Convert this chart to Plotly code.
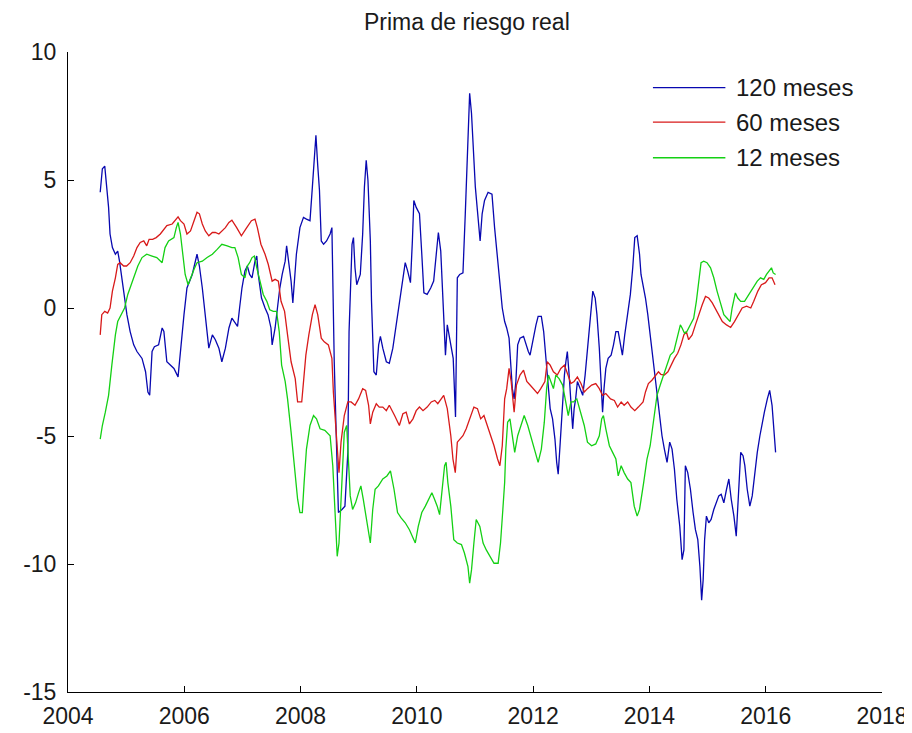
import plotly.graph_objects as go

# ---------------- data ----------------
title_text = "Prima de riesgo real"
series_names = ["120 meses", "60 meses", "12 meses"]
x_tick_labels = [2004, 2006, 2008, 2010, 2012, 2014, 2016, 2018]
y_tick_labels = [-15, -10, -5, 0, 5, 10]

years_120 = [
    2004.554, 2004.591, 2004.632, 2004.662, 2004.698, 2004.723, 2004.764, 2004.815, 2004.855, 2004.886,
    2004.927, 2004.973, 2005.013, 2005.069, 2005.130, 2005.186, 2005.273, 2005.334, 2005.374, 2005.405,
    2005.446, 2005.486, 2005.558, 2005.619, 2005.649, 2005.700, 2005.761, 2005.822, 2005.893, 2005.934,
    2005.995, 2006.046, 2006.137, 2006.219, 2006.260, 2006.310, 2006.361, 2006.422, 2006.483, 2006.534,
    2006.595, 2006.646, 2006.707, 2006.768, 2006.819, 2006.916, 2006.951, 2006.992, 2007.043, 2007.084,
    2007.124, 2007.165, 2007.216, 2007.247, 2007.272, 2007.328, 2007.389, 2007.440, 2007.491, 2007.511,
    2007.562, 2007.603, 2007.643, 2007.684, 2007.735, 2007.760, 2007.801, 2007.837, 2007.867, 2007.893,
    2007.928, 2007.989, 2008.050, 2008.101, 2008.162, 2008.203, 2008.234, 2008.264, 2008.295, 2008.325,
    2008.356, 2008.396, 2008.447, 2008.508, 2008.539, 2008.554, 2008.579, 2008.620, 2008.651, 2008.712,
    2008.763, 2008.813, 2008.834, 2008.885, 2008.910, 2008.936, 2008.966, 2009.027, 2009.068, 2009.098,
    2009.129, 2009.159, 2009.200, 2009.220, 2009.261, 2009.302, 2009.343, 2009.373, 2009.414, 2009.475,
    2009.526, 2009.587, 2009.644, 2009.699, 2009.760, 2009.800, 2009.841, 2009.890, 2009.923, 2009.948,
    2009.989, 2010.045, 2010.085, 2010.121, 2010.177, 2010.238, 2010.289, 2010.330, 2010.370, 2010.411,
    2010.452, 2010.492, 2010.523, 2010.564, 2010.625, 2010.665, 2010.696, 2010.737, 2010.793, 2010.833,
    2010.879, 2010.908, 2010.940, 2010.966, 2011.006, 2011.042, 2011.088, 2011.123, 2011.164, 2011.225,
    2011.292, 2011.337, 2011.388, 2011.428, 2011.469, 2011.510, 2011.545, 2011.586, 2011.612, 2011.642,
    2011.673, 2011.703, 2011.734, 2011.774, 2011.835, 2011.876, 2011.917, 2011.947, 2011.988, 2012.049,
    2012.086, 2012.141, 2012.181, 2012.222, 2012.263, 2012.293, 2012.334, 2012.375, 2012.405, 2012.431,
    2012.466, 2012.507, 2012.538, 2012.563, 2012.588, 2012.619, 2012.649, 2012.680, 2012.705, 2012.731,
    2012.761, 2012.812, 2012.853, 2012.894, 2012.924, 2012.965, 2013.006, 2013.026, 2013.067, 2013.097,
    2013.138, 2013.168, 2013.194, 2013.219, 2013.250, 2013.290, 2013.341, 2013.382, 2013.423, 2013.463,
    2013.499, 2013.535, 2013.575, 2013.626, 2013.672, 2013.713, 2013.748, 2013.789, 2013.830, 2013.855,
    2013.932, 2013.972, 2014.013, 2014.064, 2014.105, 2014.145, 2014.176, 2014.216, 2014.257, 2014.303,
    2014.349, 2014.389, 2014.430, 2014.471, 2014.522, 2014.562, 2014.593, 2014.618, 2014.659, 2014.705,
    2014.751, 2014.791, 2014.832, 2014.868, 2014.898, 2014.924, 2014.949, 2014.980, 2015.020, 2015.061,
    2015.107, 2015.153, 2015.193, 2015.234, 2015.280, 2015.326, 2015.366, 2015.407, 2015.453, 2015.493,
    2015.529, 2015.570, 2015.610, 2015.641, 2015.682, 2015.727, 2015.768, 2015.804, 2015.855, 2015.900,
    2015.941, 2015.977, 2016.028, 2016.068, 2016.109, 2016.140, 2016.170,
]
values_120 = [
    4.52, 5.44, 5.54, 4.85, 3.93, 2.89, 2.36, 2.10, 2.22, 1.83,
    1.18, 0.39, -0.26, -0.92, -1.44, -1.70, -1.97, -2.49, -3.28, -3.41,
    -1.70, -1.51, -1.44, -0.78, -0.92, -2.10, -2.23, -2.36, -2.69, -1.57,
    -0.26, 0.78, 1.31, 2.10, 1.64, 0.78, -0.26, -1.57, -1.05, -1.24,
    -1.57, -2.10, -1.57, -0.78, -0.40, -0.72, 0.00, 0.78, 1.45, 1.64,
    1.31, 1.18, 1.83, 2.03, 1.31, 0.39, 0.00, -0.26, -0.78, -1.44,
    -0.78, 0.00, 0.78, 1.31, 1.83, 2.43, 1.70, 1.05, 0.20, 1.05,
    2.10, 3.14, 3.54, 3.47, 3.41, 4.72, 5.77, 6.75, 5.57, 4.59,
    2.62, 2.49, 2.62, 2.89, 3.14, 0.78, -2.10, -5.51, -7.99, -7.87,
    -7.74, -5.64, -0.92, 2.49, 2.75, 1.57, 0.91, 1.31, 2.89, 4.72,
    5.77, 4.98, 2.62, 0.26, -2.49, -2.62, -1.44, -1.11, -1.57, -2.10,
    -2.16, -1.57, -0.66, 0.26, 1.18, 1.77, 1.45, 0.99, 2.62, 4.20,
    3.93, 3.68, 2.10, 0.59, 0.53, 0.78, 1.05, 1.97, 2.95, 2.22,
    0.39, -1.84, -0.66, -1.18, -1.97, -4.26, 1.18, 1.31, 1.37, 3.68,
    6.29, 8.39, 7.60, 6.43, 4.72, 3.80, 2.62, 3.68, 4.20, 4.52,
    4.45, 3.14, 1.83, 0.78, 0.00, -0.53, -0.78, -1.18, -2.36, -3.15,
    -3.55, -2.87, -1.44, -1.18, -1.11, -1.44, -1.70, -1.84, -1.32, -0.66,
    -0.33, -0.33, -0.92, -1.97, -2.87, -3.93, -4.33, -5.12, -6.03, -6.49,
    -5.24, -3.67, -2.62, -2.10, -1.70, -2.62, -3.67, -4.72, -3.93, -3.55,
    -2.87, -3.15, -3.41, -2.62, -1.84, -1.05, 0.00, 0.66, 0.39, -0.26,
    -1.57, -2.76, -4.07, -3.15, -2.36, -1.97, -1.84, -1.44, -0.92, -0.92,
    -1.44, -1.84, -1.05, -0.26, 0.53, 1.57, 2.75, 2.82, 2.10, 1.31,
    0.39, -0.26, -1.05, -1.84, -2.62, -3.55, -4.20, -4.99, -5.51, -6.03,
    -5.24, -5.51, -6.30, -7.47, -8.53, -9.83, -9.45, -6.16, -6.43, -7.08,
    -7.99, -8.66, -9.05, -10.10, -11.41, -10.62, -9.05, -8.13, -8.39, -8.26,
    -7.87, -7.61, -7.34, -7.28, -7.61, -7.08, -6.68, -7.47, -8.13, -8.91,
    -7.47, -5.64, -5.77, -6.16, -7.08, -7.74, -7.34, -6.56, -5.64, -4.99,
    -4.46, -4.07, -3.55, -3.22, -3.80, -4.72, -5.64,
]

years_60 = [
    2004.554, 2004.581, 2004.632, 2004.682, 2004.723, 2004.764, 2004.815, 2004.855, 2004.896, 2004.957,
    2005.008, 2005.069, 2005.130, 2005.186, 2005.242, 2005.303, 2005.354, 2005.395, 2005.456, 2005.517,
    2005.588, 2005.649, 2005.700, 2005.792, 2005.842, 2005.893, 2005.934, 2005.995, 2006.046, 2006.107,
    2006.168, 2006.219, 2006.260, 2006.310, 2006.361, 2006.422, 2006.483, 2006.534, 2006.595, 2006.646,
    2006.707, 2006.768, 2006.819, 2006.901, 2006.982, 2007.074, 2007.155, 2007.216, 2007.257, 2007.318,
    2007.389, 2007.445, 2007.511, 2007.562, 2007.618, 2007.664, 2007.725, 2007.776, 2007.837, 2007.908,
    2007.949, 2008.020, 2008.050, 2008.091, 2008.142, 2008.203, 2008.249, 2008.295, 2008.356, 2008.407,
    2008.478, 2008.539, 2008.564, 2008.605, 2008.641, 2008.661, 2008.696, 2008.752, 2008.813, 2008.869,
    2008.936, 2008.997, 2009.068, 2009.119, 2009.170, 2009.200, 2009.241, 2009.302, 2009.353, 2009.414,
    2009.475, 2009.526, 2009.617, 2009.699, 2009.760, 2009.816, 2009.872, 2009.933, 2009.989, 2010.045,
    2010.106, 2010.177, 2010.248, 2010.309, 2010.360, 2010.411, 2010.462, 2010.523, 2010.584, 2010.621,
    2010.661, 2010.696, 2010.737, 2010.793, 2010.849, 2010.908, 2010.981, 2011.042, 2011.098, 2011.154,
    2011.215, 2011.271, 2011.327, 2011.388, 2011.428, 2011.469, 2011.510, 2011.545, 2011.586, 2011.622,
    2011.673, 2011.713, 2011.774, 2011.835, 2011.891, 2011.947, 2012.019, 2012.075, 2012.131, 2012.202,
    2012.242, 2012.293, 2012.349, 2012.415, 2012.476, 2012.538, 2012.599, 2012.649, 2012.705, 2012.761,
    2012.823, 2012.879, 2012.934, 2013.006, 2013.077, 2013.138, 2013.194, 2013.250, 2013.331, 2013.397,
    2013.453, 2013.514, 2013.565, 2013.626, 2013.682, 2013.748, 2013.809, 2013.891, 2013.932, 2013.982,
    2014.043, 2014.105, 2014.155, 2014.196, 2014.257, 2014.318, 2014.369, 2014.430, 2014.486, 2014.542,
    2014.593, 2014.634, 2014.674, 2014.735, 2014.791, 2014.847, 2014.908, 2014.964, 2015.020, 2015.081,
    2015.132, 2015.193, 2015.254, 2015.326, 2015.397, 2015.463, 2015.539, 2015.595, 2015.671, 2015.743,
    2015.794, 2015.865, 2015.926, 2015.997, 2016.058, 2016.109, 2016.160,
]
values_60 = [
    -1.05, -0.26, -0.13, -0.20, 0.00, 0.66, 1.18, 1.70, 1.77, 1.64,
    1.64, 1.77, 2.03, 2.36, 2.56, 2.62, 2.43, 2.68, 2.68, 2.75,
    2.89, 3.08, 3.22, 3.28, 3.41, 3.56, 3.41, 3.28, 2.89, 3.01,
    3.41, 3.74, 3.68, 3.28, 3.01, 2.82, 2.95, 2.95, 2.89, 3.01,
    3.14, 3.34, 3.43, 3.14, 2.82, 3.14, 3.41, 3.47, 3.14, 2.49,
    2.10, 1.70, 1.05, 1.12, 1.05, 0.26, -0.13, -1.05, -2.10, -2.76,
    -3.67, -3.67, -2.87, -1.84, -1.05, -0.26, 0.13, -0.26, -1.18, -1.32,
    -1.44, -1.97, -3.28, -4.72, -6.16, -6.43, -5.24, -4.20, -3.67, -3.67,
    -3.80, -3.55, -3.15, -3.22, -3.80, -4.53, -4.07, -3.74, -3.87, -3.87,
    -4.01, -3.80, -4.20, -4.59, -4.13, -4.07, -4.53, -4.33, -4.01, -3.87,
    -4.01, -3.87, -3.67, -3.61, -3.74, -3.55, -3.41, -3.93, -4.99, -5.90,
    -6.43, -5.24, -5.12, -4.99, -4.72, -4.33, -3.87, -3.93, -4.33, -4.20,
    -4.59, -4.99, -5.38, -5.90, -6.16, -5.38, -3.55, -3.15, -2.36, -2.87,
    -4.07, -3.01, -2.62, -2.43, -2.87, -3.01, -3.22, -3.34, -3.15, -2.87,
    -2.10, -2.23, -2.49, -2.62, -2.36, -2.23, -2.62, -2.95, -2.87, -2.69,
    -2.95, -3.28, -3.15, -3.01, -2.95, -3.15, -3.41, -3.34, -3.55, -3.61,
    -3.87, -3.67, -3.80, -3.67, -3.87, -4.01, -3.87, -3.67, -3.28, -2.95,
    -2.82, -2.62, -2.49, -2.59, -2.62, -2.49, -2.23, -1.97, -1.77, -1.44,
    -1.05, -0.92, -1.24, -1.05, -0.66, -0.26, 0.13, 0.45, 0.39, 0.20,
    0.00, -0.26, -0.53, -0.66, -0.76, -0.53, -0.20, 0.00, 0.07, 0.00,
    0.26, 0.66, 0.91, 0.99, 1.18, 1.18, 0.91,
]

years_12 = [
    2004.554, 2004.591, 2004.642, 2004.698, 2004.754, 2004.815, 2004.855, 2004.916, 2004.973, 2005.028,
    2005.089, 2005.150, 2005.201, 2005.273, 2005.354, 2005.446, 2005.527, 2005.619, 2005.669, 2005.730,
    2005.822, 2005.863, 2005.893, 2005.934, 2005.975, 2006.015, 2006.066, 2006.107, 2006.168, 2006.219,
    2006.310, 2006.392, 2006.483, 2006.565, 2006.646, 2006.738, 2006.819, 2006.870, 2006.926, 2006.982,
    2007.043, 2007.084, 2007.124, 2007.165, 2007.206, 2007.247, 2007.297, 2007.358, 2007.420, 2007.470,
    2007.531, 2007.587, 2007.633, 2007.674, 2007.735, 2007.776, 2007.837, 2007.893, 2007.949, 2007.989,
    2008.030, 2008.061, 2008.101, 2008.162, 2008.223, 2008.274, 2008.335, 2008.417, 2008.508, 2008.554,
    2008.590, 2008.630, 2008.661, 2008.712, 2008.752, 2008.793, 2008.824, 2008.854, 2008.895, 2008.946,
    2008.997, 2009.037, 2009.078, 2009.129, 2009.170, 2009.200, 2009.241, 2009.282, 2009.339, 2009.414,
    2009.485, 2009.546, 2009.607, 2009.668, 2009.729, 2009.800, 2009.872, 2009.933, 2009.973, 2010.024,
    2010.085, 2010.146, 2010.197, 2010.258, 2010.304, 2010.350, 2010.391, 2010.431, 2010.477, 2010.503,
    2010.533, 2010.584, 2010.635, 2010.696, 2010.767, 2010.818, 2010.879, 2010.908, 2010.940, 2010.981,
    2011.021, 2011.083, 2011.139, 2011.194, 2011.256, 2011.327, 2011.398, 2011.439, 2011.479, 2011.510,
    2011.530, 2011.561, 2011.601, 2011.642, 2011.683, 2011.734, 2011.785, 2011.846, 2011.907, 2011.958,
    2012.029, 2012.086, 2012.141, 2012.192, 2012.232, 2012.263, 2012.304, 2012.349, 2012.390, 2012.446,
    2012.507, 2012.563, 2012.604, 2012.649, 2012.695, 2012.751, 2012.812, 2012.879, 2012.934, 2013.006,
    2013.077, 2013.138, 2013.179, 2013.209, 2013.250, 2013.311, 2013.367, 2013.423, 2013.463, 2013.514,
    2013.565, 2013.626, 2013.682, 2013.738, 2013.789, 2013.830, 2013.901, 2013.958, 2014.013, 2014.074,
    2014.130, 2014.186, 2014.247, 2014.303, 2014.359, 2014.420, 2014.461, 2014.501, 2014.532, 2014.562,
    2014.603, 2014.644, 2014.705, 2014.761, 2014.807, 2014.847, 2014.888, 2014.934, 2014.990, 2015.051,
    2015.107, 2015.163, 2015.224, 2015.280, 2015.336, 2015.387, 2015.422, 2015.478, 2015.519, 2015.570,
    2015.636, 2015.712, 2015.783, 2015.855, 2015.911, 2015.967, 2016.014, 2016.058, 2016.099, 2016.129,
    2016.170,
]
values_12 = [
    -5.12, -4.59, -4.07, -3.41, -2.23, -1.05, -0.53, -0.26, 0.00, 0.53,
    0.91, 1.31, 1.64, 1.97, 2.10, 2.03, 1.97, 1.77, 2.36, 2.62,
    2.75, 3.14, 3.34, 2.89, 2.10, 1.31, 0.91, 1.18, 1.51, 1.77,
    1.83, 1.97, 2.10, 2.29, 2.49, 2.43, 2.36, 2.36, 1.97, 1.31,
    1.18, 1.64, 1.77, 1.97, 2.03, 1.57, 1.05, 0.53, 0.26, -0.07,
    -0.13, -0.13, -0.92, -2.23, -2.87, -3.55, -4.85, -6.16, -7.47, -7.99,
    -7.99, -6.82, -5.51, -4.59, -4.20, -4.33, -4.72, -4.78, -4.99, -6.16,
    -8.13, -9.70, -9.18, -6.82, -4.85, -4.59, -5.90, -7.34, -7.87, -7.61,
    -7.22, -6.95, -7.47, -8.13, -8.66, -9.18, -7.87, -7.08, -6.95, -6.68,
    -6.56, -6.36, -7.08, -7.99, -8.20, -8.39, -8.66, -8.99, -9.18, -8.53,
    -7.99, -7.74, -7.47, -7.22, -7.47, -7.74, -8.07, -7.22, -6.16, -6.03,
    -6.82, -7.74, -9.05, -9.18, -9.24, -9.57, -10.10, -10.75, -10.23, -9.18,
    -8.26, -8.53, -9.18, -9.45, -9.70, -9.97, -9.97, -9.18, -7.87, -6.82,
    -5.51, -4.46, -4.33, -4.99, -5.64, -4.99, -4.59, -4.20, -4.59, -4.99,
    -5.51, -6.03, -5.51, -4.46, -3.15, -2.62, -2.87, -3.15, -2.62, -2.76,
    -3.01, -3.67, -4.20, -3.67, -3.67, -3.55, -4.01, -4.59, -5.24, -5.38,
    -5.31, -4.99, -4.33, -4.20, -4.72, -5.38, -5.64, -5.90, -6.56, -6.16,
    -6.43, -6.68, -6.82, -7.74, -8.13, -7.87, -6.82, -5.90, -5.38, -4.33,
    -3.41, -3.01, -2.62, -2.23, -1.84, -1.70, -1.32, -1.05, -0.66, -0.78,
    -0.99, -0.92, -0.66, -0.40, 0.26, 1.05, 1.77, 1.83, 1.77, 1.57,
    1.18, 0.66, 0.13, -0.26, -0.40, -0.53, 0.00, 0.59, 0.39, 0.26,
    0.26, 0.53, 0.78, 1.05, 1.18, 1.12, 1.31, 1.45, 1.57, 1.37,
    1.31,
]

# ---------------- styling ----------------
colors = ["#0808b0", "#d81a1a", "#14d014"]
FONT = "Liberation Sans, Arial, Helvetica, sans-serif"
TXT = "#1a1a1a"

fig = go.Figure()
for name, xs, ys, col in zip(series_names,
                             [years_120, years_60, years_12],
                             [values_120, values_60, values_12],
                             colors):
    fig.add_trace(go.Scatter(x=xs, y=ys, mode="lines", name=name,
                             line=dict(color=col, width=1.3), showlegend=False))

# MATLAB-style legend (long line samples) drawn in paper coordinates
legend_y = [0.9444, 0.8904, 0.8348]
for name, col, ly in zip(series_names, colors, legend_y):
    fig.add_shape(type="line", xref="paper", yref="paper",
                  x0=0.7186, x1=0.8076, y0=ly, y1=ly,
                  line=dict(color=col, width=1.3))
    fig.add_annotation(xref="paper", yref="paper", x=0.8185, y=ly,
                       text=name, showarrow=False, xanchor="left", yanchor="middle",
                       font=dict(family=FONT, size=24, color=TXT))

fig.update_layout(
    width=912, height=733,
    margin=dict(l=60, r=31, t=44, b=41),
    paper_bgcolor="white", plot_bgcolor="white",
    font=dict(family=FONT, size=23, color=TXT),
    title=dict(text=title_text, x=0.49, xref="paper", y=0.981, yref="container",
               xanchor="center", yanchor="middle",
               font=dict(family=FONT, size=23, color=TXT)),
    showlegend=False,
)
fig.update_xaxes(range=[2004, 2018], tickvals=x_tick_labels,
                 ticktext=[str(v) for v in x_tick_labels],
                 ticks="inside", ticklen=6, tickcolor="black", tickwidth=1,
                 ticklabelstandoff=3,
                 showline=True, linecolor="black", linewidth=1,
                 showgrid=False, zeroline=False, mirror=False)
fig.update_yaxes(range=[-15, 10], tickvals=y_tick_labels,
                 ticktext=[str(v) for v in y_tick_labels],
                 ticks="inside", ticklen=6, tickcolor="black", tickwidth=1,
                 ticklabelstandoff=6,
                 showline=True, linecolor="black", linewidth=1,
                 showgrid=False, zeroline=False, mirror=False)

fig.write_html("out.html")
